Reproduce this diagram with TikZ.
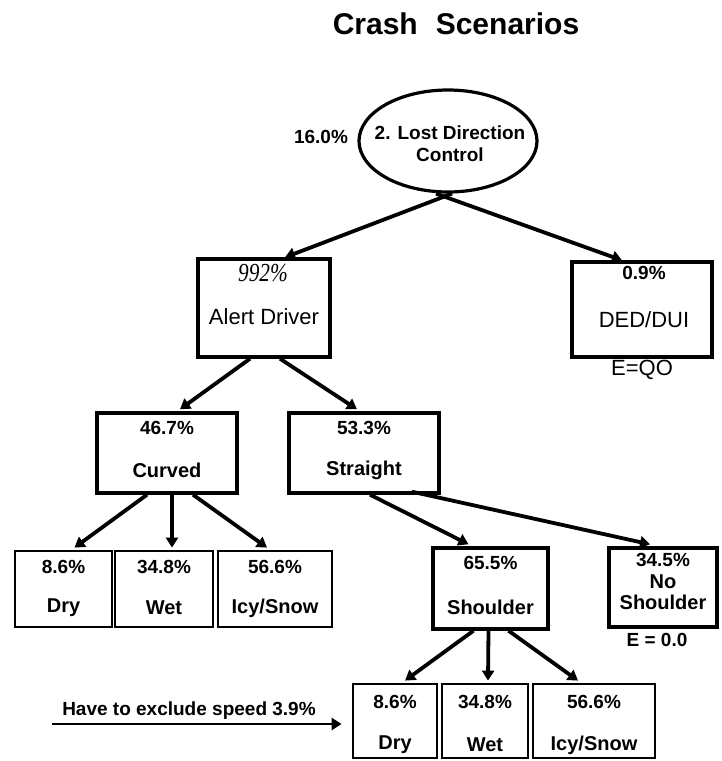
\documentclass[tikz,border=0pt]{standalone}
\usepackage{fontspec}
\setmainfont{Liberation Sans}
\newfontfamily\serifit{Liberation Serif}
\usetikzlibrary{calc,arrows.meta,shapes.geometric}
\begin{document}
\begin{tikzpicture}[x=1pt,y=-1pt,
  box/.style={draw,line width=3.4pt,inner sep=0pt,rectangle},
  sbox/.style={draw,line width=2.8pt,inner sep=0pt,rectangle},
  pct/.style={font=\fontsize{19}{20}\selectfont\bfseries,inner sep=0pt},
  lbl/.style={font=\fontsize{20}{22}\selectfont\bfseries,inner sep=0pt},
  plain/.style={font=\fontsize{22}{24}\selectfont,inner sep=0pt},
  arr/.style={line width=3.8pt,-{Triangle[length=10pt,width=12pt]}}]
\useasboundingbox (0,0) rectangle (722,761);

% title
\node[font=\fontsize{30}{32}\selectfont\bfseries,inner sep=0pt] (title) at (456,24) {Crash\hspace{0.6em}Scenarios};

% root ellipse
\node[draw,ellipse,line width=3.2pt,minimum width=178pt,minimum height=102pt,inner sep=0pt] (ell) at (448,141) {};
\node[pct] (ellt1) at (450,133) {2. Lost Direction};
\node[pct] (ellt2) at (450,155) {Control};
\node[pct] (ellp) at (321,137) {16.0\%};

% second level
\node[box,minimum width=132pt,minimum height=98pt] (alert) at (264,308) {};
\node[font=\fontsize{26}{26}\selectfont\serifit\itshape,inner sep=0pt] (alertp) at (263,273) {\scalebox{0.82}[1]{992\%}};
\node[plain] (alertl) at (264,317) {Alert Driver};

\node[box,minimum width=140pt,minimum height=95pt] (ded) at (642,309.5) {};
\node[pct] (dedp) at (644,273) {0.9\%};
\node[plain] (dedl) at (644,320) {DED/DUI};
\node[plain] (dede) at (642,370) {E=QO};

% third level
\node[box,minimum width=140pt,minimum height=80pt] (curved) at (167,453) {};
\node[pct] (curvedp) at (167,428) {46.7\%};
\node[lbl] (curvedl) at (167,470) {Curved};

\node[box,minimum width=150pt,minimum height=80pt] (straight) at (364,453) {};
\node[pct] (straightp) at (364,428) {53.3\%};
\node[lbl] (straightl) at (364,470) {Straight};

% road surface under curved
\node[sbox,minimum width=97pt,minimum height=76pt] (dryA) at (63.5,589) {};
\node[pct] (dryAp) at (63.5,567) {8.6\%};
\node[lbl] (dryAl) at (63.5,608) {Dry};
\node[sbox,minimum width=98pt,minimum height=76pt] (wetA) at (164,589) {};
\node[pct] (wetAp) at (164,567) {34.8\%};
\node[lbl] (wetAl) at (164,608) {Wet};
\node[sbox,minimum width=114pt,minimum height=76pt] (icyA) at (275,589) {};
\node[pct] (icyAp) at (275,567) {56.6\%};
\node[lbl] (icyAl) at (275,608) {Icy/Snow};

% shoulder split under straight
\node[box,minimum width=115pt,minimum height=81pt] (shoulder) at (490.5,588.5) {};
\node[pct] (shoulderp) at (490.5,563) {65.5\%};
\node[lbl] (shoulderl) at (490.5,607) {Shoulder};

\node[box,minimum width=108pt,minimum height=79pt] (noshoulder) at (663,587.5) {};
\node[pct] (noshoulderp) at (663,560) {34.5\%};
\node[lbl] (noshoulderl1) at (663,582) {No};
\node[lbl] (noshoulderl2) at (663,602) {Shoulder};
\node[pct] (noshouldere) at (657,640) {E = 0.0};

% road surface under shoulder
\node[sbox,minimum width=84pt,minimum height=74pt] (dryB) at (395,721) {};
\node[pct] (dryBp) at (395,702) {8.6\%};
\node[lbl] (dryBl) at (395,745) {Dry};
\node[sbox,minimum width=86pt,minimum height=74pt] (wetB) at (485,721) {};
\node[pct] (wetBp) at (485,702) {34.8\%};
\node[lbl] (wetBl) at (485,745) {Wet};
\node[sbox,minimum width=122pt,minimum height=74pt] (icyB) at (594,721) {};
\node[pct] (icyBp) at (594,702) {56.6\%};
\node[lbl] (icyBl) at (594,745) {Icy/Snow};

% speed note
\node[pct] (speed) at (189,711) {Have to exclude speed 3.9\%};
\coordinate (speedstart) at (52,724);

% connectors
\draw[arr] ($(ell.south)+(4,0)$) -- ($(alert.north)+(21,0)$);
\draw[arr] ($(ell.south)+(-12,0)$) -- ($(ded.north)+(-20,0)$);
\draw[arr] ($(alert.south)+(-14,0)$) -- ($(curved.north)+(13,-2)$);
\draw[arr] ($(alert.south)+(16,0)$) -- ($(straight.north)+(-7,-2)$);
\draw[arr] ($(curved.south)+(-20,0)$) -- ($(dryA.north)+(11,-2)$);
\draw[arr] ($(curved.south)+(5,0)$) -- ($(wetA.north)+(8,-2)$);
\draw[arr] ($(curved.south)+(26,0)$) -- ($(icyA.north)+(-8,-2)$);
\draw[arr] ($(straight.south)+(6,0)$) -- ($(shoulder.north)+(-22,-2)$);
\draw[arr] ($(straight.south)+(48,-3)$) -- ($(noshoulder.north)+(-13,-2)$);
\draw[arr] ($(shoulder.south)+(-17,0)$) -- ($(dryB.north)+(10,-2)$);
\draw[arr] ($(shoulder.south)+(-2,0)$) -- ($(wetB.north)+(3,-2)$);
\draw[arr] ($(shoulder.south)+(18,0)$) -- ($(icyB.north)+(-16,-2)$);
\draw[arr,line width=2.6pt,shorten >=10pt] (speedstart) -- (dryB.west |- speedstart);
\end{tikzpicture}
\end{document}
